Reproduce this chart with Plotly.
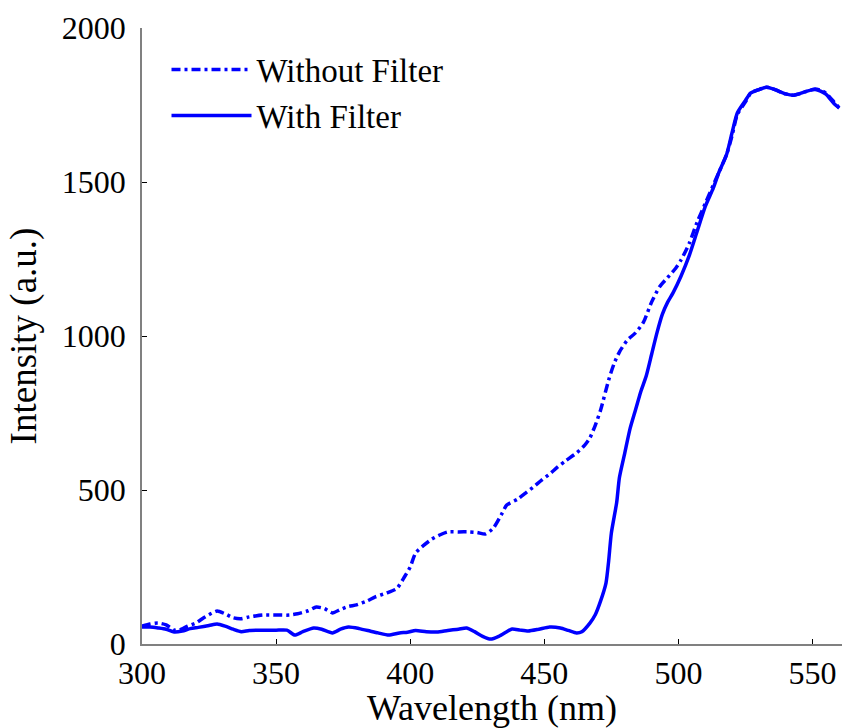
import plotly.graph_objects as go

# Without Filter (dash-dot)
wl_without = [300, 303, 306, 309, 312, 314, 317, 320, 323, 326, 328, 331, 334, 337, 340, 345, 350, 355, 358, 362,
              365, 368, 371, 374, 377, 380, 384, 387, 391, 395, 398, 400, 402, 405, 408, 411, 414, 418, 422, 425,
              428, 431, 434, 436, 440, 443, 446, 449, 452, 455, 458, 462, 465, 467, 469, 471, 474, 476, 478, 481,
              484, 487, 490, 493, 496, 499, 501, 504, 507, 510, 513, 515, 518, 520, 522, 525, 527, 530, 533, 536,
              540, 543, 545, 548, 551, 553, 555, 558, 560]
int_without = [58, 65, 68, 62, 45, 45, 58, 68, 85, 100, 107, 98, 85, 82, 88, 94, 94, 94, 98, 108,
               120, 115, 101, 112, 122, 127, 140, 153, 165, 180, 220, 250, 295, 320, 340, 354, 364, 364, 364, 362,
               357, 376, 420, 451, 470, 490, 510, 532, 552, 575, 595, 620, 645, 669, 710, 760, 857, 910, 948, 987,
               1010, 1045, 1110, 1160, 1190, 1220, 1247, 1300, 1370, 1430, 1490, 1529, 1590, 1650, 1720, 1760, 1789, 1800, 1808, 1800,
               1786, 1782, 1786, 1795, 1802, 1798, 1789, 1760, 1740]

# With Filter (solid)
wl_with = [300, 303, 306, 309, 312, 315, 318, 321, 325, 328, 331, 334, 337, 340, 345, 350, 354, 357, 360, 364,
           367, 371, 374, 377, 381, 385, 388, 392, 396, 399, 402, 406, 410, 414, 418, 421, 424, 427, 430, 433,
           436, 438, 441, 444, 448, 452, 456, 459, 462, 464, 467, 469, 471, 473, 474, 475, 477, 478, 480, 482,
           484, 486, 488, 490, 492, 494, 496, 498, 501, 504, 507, 510, 513, 515, 518, 520, 522, 525, 527, 530,
           533, 536, 540, 543, 545, 548, 551, 553, 555, 558, 560]
int_with = [55, 55, 52, 48, 39, 42, 50, 54, 60, 65, 58, 48, 40, 44, 45, 45, 45, 29, 40, 52,
            48, 36, 48, 55, 50, 42, 36, 29, 36, 38, 44, 40, 39, 44, 48, 52, 40, 25, 16, 25,
            40, 49, 45, 42, 48, 55, 52, 44, 36, 40, 68, 95, 140, 198, 270, 360, 460, 540, 620, 700,
            760, 820, 870, 940, 1010, 1070, 1110, 1140, 1195, 1260, 1340, 1420, 1480, 1529, 1590, 1660, 1725, 1765, 1789, 1800,
            1808, 1800, 1786, 1782, 1786, 1795, 1800, 1795, 1785, 1755, 1740]

x_ticks = [300, 350, 400, 450, 500, 550]
y_ticks = [0, 500, 1000, 1500, 2000]

BLUE = "#0000FF"
FONT = "Liberation Serif"

fig = go.Figure()
fig.add_trace(go.Scatter(x=wl_without, y=int_without, mode="lines", name="Without Filter",
                         line=dict(color=BLUE, width=3.5, dash="9px,4px,3px,4px", shape="spline", smoothing=0.6)))
fig.add_trace(go.Scatter(x=wl_with, y=int_with, mode="lines", name="With Filter",
                         line=dict(color=BLUE, width=3.5, shape="spline", smoothing=0.6)))

fig.update_layout(
    width=842, height=728,
    margin=dict(l=142, r=0, t=28, b=84),
    paper_bgcolor="white", plot_bgcolor="white",
    font=dict(family=FONT, size=32, color="black"),
    showlegend=True,
    legend=dict(x=0.035, y=0.978, xanchor="left", yanchor="top", bgcolor="rgba(0,0,0,0)",
                font=dict(family=FONT, size=33, color="black"), itemwidth=80,
                tracegroupgap=0),
)
fig.update_xaxes(range=[300, 561], tickvals=x_ticks, ticktext=[str(v) for v in x_ticks],
                 showline=True, linecolor="#808080", linewidth=1.5, mirror=False,
                 ticks="inside", ticklen=5, tickcolor="black", showgrid=False, zeroline=False,
                 tickfont=dict(family=FONT, size=32), ticklabelstandoff=0,
                 title=dict(text="Wavelength (nm)", font=dict(family=FONT, size=36), standoff=0))
fig.update_yaxes(range=[0, 2000], tickvals=y_ticks, ticktext=[str(v) for v in y_ticks],
                 showline=True, linecolor="#808080", linewidth=1.5, mirror=False,
                 ticks="inside", ticklen=5, tickcolor="black", showgrid=False, zeroline=False,
                 tickfont=dict(family=FONT, size=32), ticklabelstandoff=8,
                 title=dict(text="Intensity (a.u.)", font=dict(family=FONT, size=37), standoff=14))

fig.write_html("out.html")
